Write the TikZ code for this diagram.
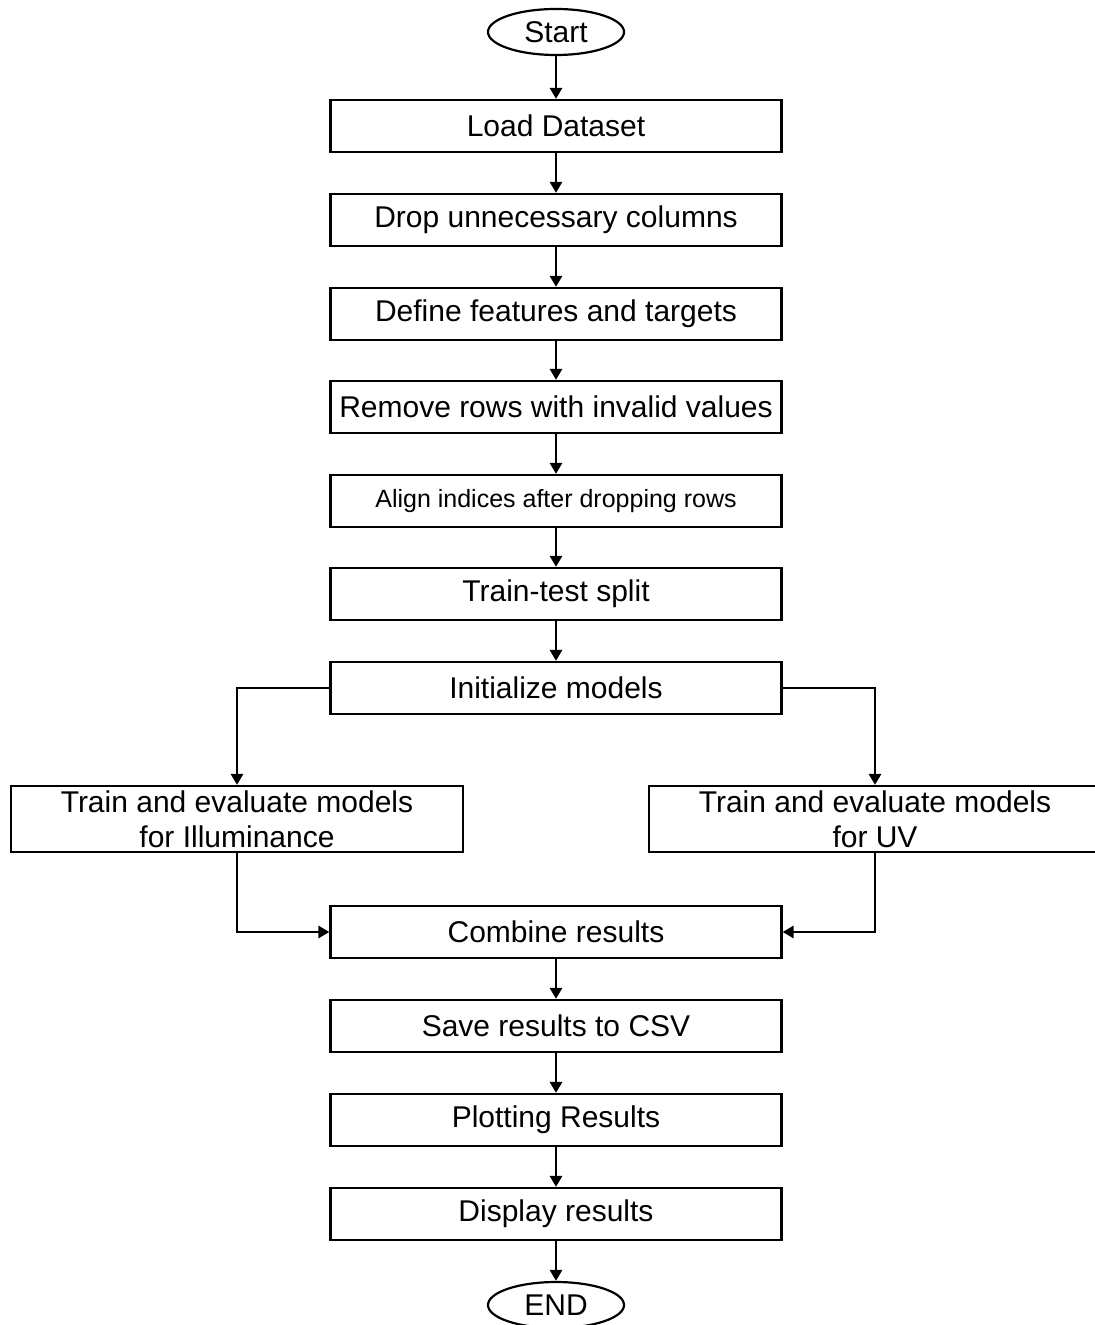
\documentclass[tikz,border=0pt]{standalone}
\usepackage{fontspec}
\setmainfont{Liberation Sans}
\usetikzlibrary{arrows.meta,shapes.geometric}
\begin{document}
\begin{tikzpicture}[x=0.5pt,y=-0.5pt,
  procbox/.style={draw,line width=1.1pt,rectangle,minimum width=225.5pt,minimum height=26pt,inner sep=0pt,font=\fontsize{15}{17.5}\selectfont,align=center},
  bigbox/.style={procbox,minimum width=226pt,minimum height=33pt},
  termin/.style={draw,line width=1.1pt,ellipse,minimum width=68pt,minimum height=23pt,inner sep=0pt,font=\fontsize{15}{17.5}\selectfont},
  flow/.style={line width=1.45pt,-{Triangle[length=5.5pt,width=6pt]}}]
\useasboundingbox (0,0) rectangle (1094,1325);
\fill[white] (0,0) rectangle (1094,1325);
\node[termin] (start) at (556,32) {Start};
\node[procbox] (load) at (556,126) {Load Dataset};
\node[procbox] (drop) at (556,220) {Drop unnecessary columns};
\node[procbox] (define) at (556,314) {Define features and targets};
\node[procbox] (remove) at (556,407) {Remove rows with invalid values};
\node[procbox,font=\fontsize{12.5}{15}\selectfont] (align) at (556,501) {Align indices after dropping rows};
\node[procbox] (split) at (556,594) {Train-test split};
\node[procbox] (init) at (556,688) {Initialize models};
\node[bigbox] (trainL) at (237,819) {Train and evaluate models\\for Illuminance};
\node[bigbox] (trainR) at (875,819) {Train and evaluate models\\for UV};
\node[procbox] (combine) at (556,932) {Combine results};
\node[procbox] (save) at (556,1026) {Save results to CSV};
\node[procbox] (plot) at (556,1120) {Plotting Results};
\node[procbox] (display) at (556,1214) {Display results};
\node[termin] (end) at (556,1305) {END};
\draw[flow] (start) -- (load);
\draw[flow] (load) -- (drop);
\draw[flow] (drop) -- (define);
\draw[flow] (define) -- (remove);
\draw[flow] (remove) -- (align);
\draw[flow] (align) -- (split);
\draw[flow] (split) -- (init);
\draw[flow] (init.west) -| (trainL.north);
\draw[flow] (init.east) -| (trainR.north);
\draw[flow] (trainL.south) |- (combine.west);
\draw[flow] (trainR.south) |- (combine.east);
\draw[flow] (combine) -- (save);
\draw[flow] (save) -- (plot);
\draw[flow] (plot) -- (display);
\draw[flow] (display) -- (end);
\end{tikzpicture}
\end{document}
